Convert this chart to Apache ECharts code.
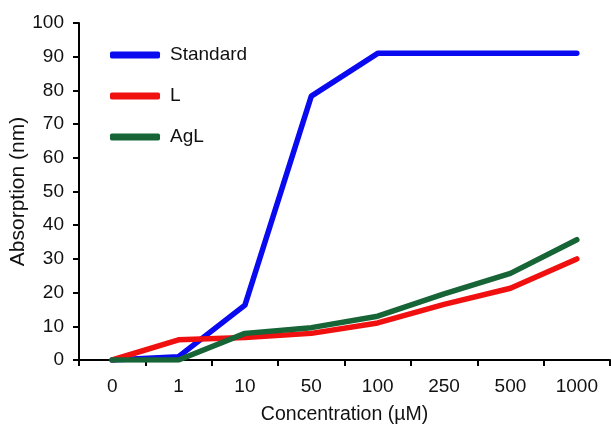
<!DOCTYPE html>
<html><head><meta charset="utf-8">
<script src="https://cdn.jsdelivr.net/npm/echarts@6/dist/echarts.min.js"></script>
<style>html,body{margin:0;padding:0;background:#fff}#c{width:611px;height:425px}</style>
</head><body><div id="c"></div>
<script>
const categories = ['0','1','10','50','100','250','500','1000'];
const standard = [0, 1, 16.3, 78.3, 91, 91, 91, 91];
const seriesL = [0, 6, 6.7, 7.9, 11, 16.5, 21.3, 30];
const seriesAgL = [0, 0, 7.9, 9.6, 13, 19.6, 25.7, 35.7];
const yTicks = [0,10,20,30,40,50,60,70,80,90,100];

const font = 'Liberation Sans, Arial, sans-serif';
const chart = echarts.init(document.getElementById('c'), null, {renderer:'canvas'});
function mk(name, data, color){
  return {name, type:'line', data, symbol:'none', showSymbol:false,
    lineStyle:{color, width:5.5, cap:'round', join:'round'}, itemStyle:{color}};
}
chart.setOption({
  animation:false,
  grid:{left:79, right:1, top:23, bottom:65, containLabel:false, outerBoundsMode:'none'},
  legend:{orient:'vertical', left:105, top:40, itemWidth:50, itemHeight:7, itemGap:21, icon:'roundRect',
    textStyle:{fontFamily:font, fontSize:19, lineHeight:20, color:'#111', padding:[0,0,0,5]},
    data:['Standard','L','AgL']},
  xAxis:{type:'category', data:categories, boundaryGap:true,
    name:'Concentration (µM)', nameLocation:'middle', nameGap:45, nameMoveOverlap:false,
    nameTextStyle:{fontFamily:font, fontSize:19.5, color:'#111'},
    axisLine:{lineStyle:{color:'#000', width:2}},
    axisTick:{show:true, length:6, lineStyle:{color:'#000', width:2}, alignWithLabel:false},
    axisLabel:{fontFamily:font, fontSize:19, color:'#111', margin:17}},
  yAxis:{type:'value', min:0, max:100, interval:10,
    name:'Absorption (nm)', nameLocation:'middle', nameGap:50, nameMoveOverlap:false,
    nameTextStyle:{fontFamily:font, fontSize:21, color:'#111'},
    splitLine:{show:false},
    axisLine:{show:true, lineStyle:{color:'#000', width:2}},
    axisTick:{show:true, length:6, lineStyle:{color:'#000', width:2}},
    axisLabel:{fontFamily:font, fontSize:19, color:'#111', margin:15,
      formatter:v=> yTicks.includes(v) ? String(v) : ''}},
  series:[mk('Standard', standard, '#0a0af0'), mk('L', seriesL, '#f01010'), mk('AgL', seriesAgL, '#176437')]
});
</script></body></html>
